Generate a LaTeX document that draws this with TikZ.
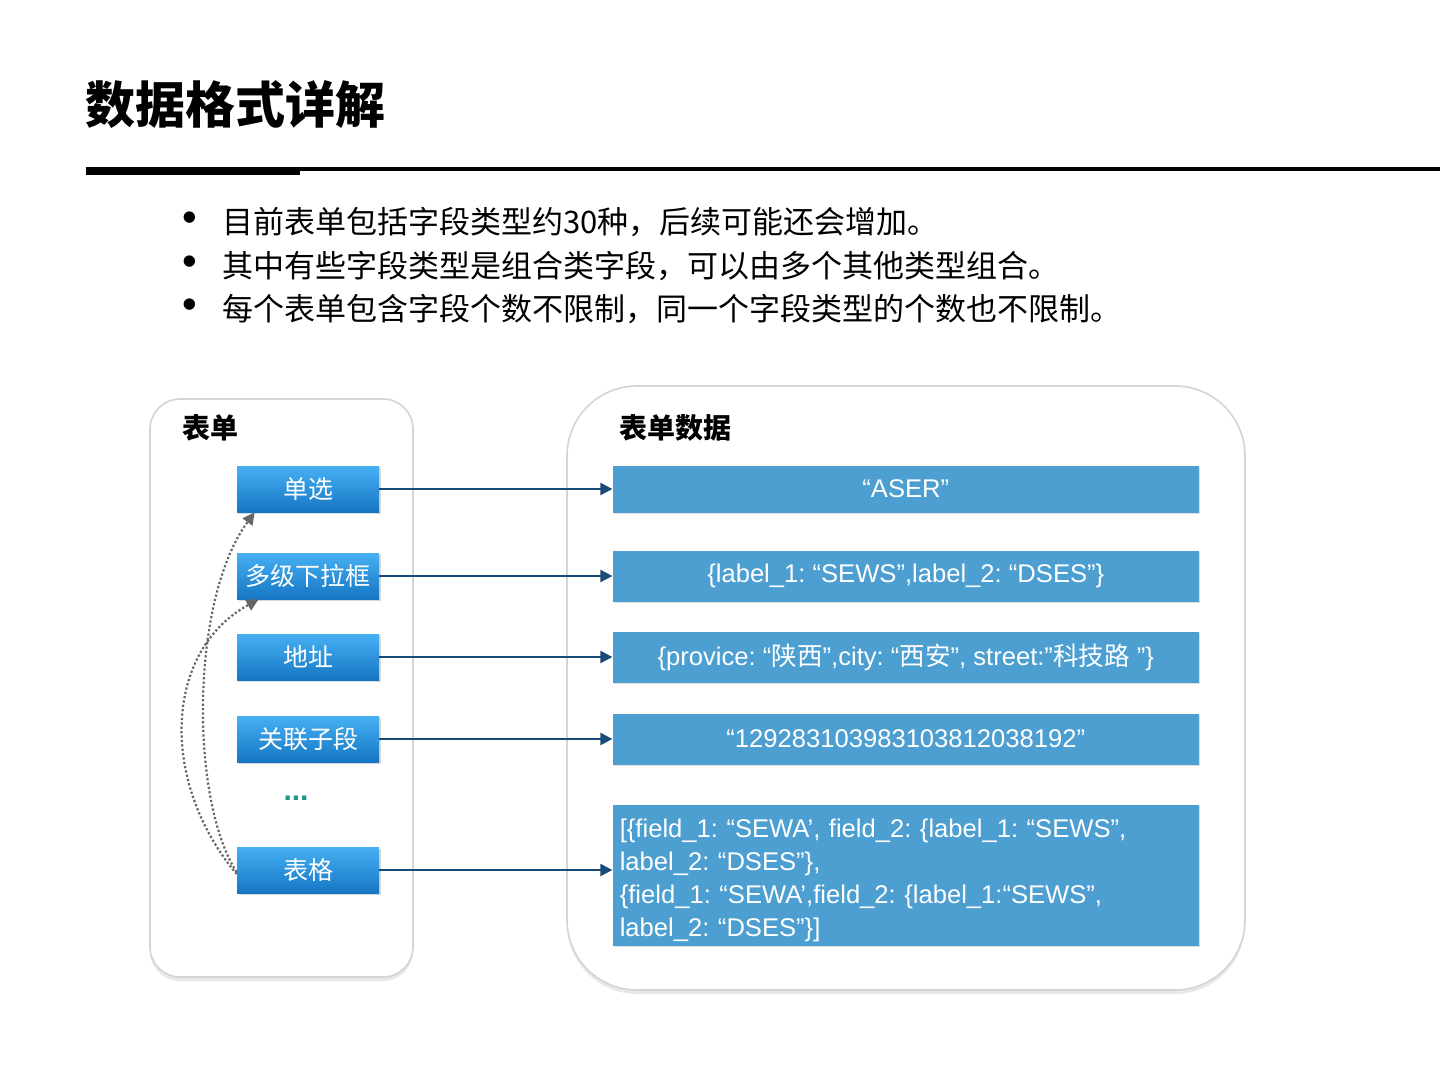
\documentclass[tikz,border=0pt]{standalone}
\usepackage{fontspec}
\setmainfont{Liberation Sans}
\newfontfamily\cjk{Noto Sans CJK SC}
\usetikzlibrary{arrows.meta, positioning, shadows}
\frenchspacing

\definecolor{fieldtop}{RGB}{70,176,243}
\definecolor{fieldbot}{RGB}{22,118,196}
\definecolor{valueblue}{RGB}{77,159,209}
\definecolor{linkblue}{RGB}{25,75,120}
\definecolor{dotteal}{RGB}{26,150,140}
\definecolor{panelgray}{RGB}{212,212,212}

\begin{document}
\begin{tikzpicture}[
    x=0.5pt, y=-0.5pt,
    panel/.style={rectangle, draw=panelgray, line width=0.8pt, fill=white, drop shadow={shadow xshift=0pt, shadow yshift=-2pt, opacity=0.18}},
    fieldbox/.style={rectangle, minimum width=71pt, minimum height=23pt, top color=fieldtop, bottom color=fieldbot, text=white, font=\cjk\fontsize{12.5}{15}\selectfont, drop shadow={shadow xshift=0.8pt, shadow yshift=-0.8pt, opacity=0.3}},
    valuebox/.style={rectangle, fill=valueblue, minimum width=293pt, minimum height=25.5pt, text=white, font=\fontsize{12.8}{16.5}\selectfont, drop shadow={shadow xshift=0.6pt, shadow yshift=-0.8pt, opacity=0.25}},
    arrow/.style={-{Triangle[length=6pt, width=6pt]}, linkblue, line width=1pt},
    reuse/.style={-{Triangle[length=6pt, width=6pt]}, black!60, line width=1.1pt, dash pattern=on 1.1pt off 1.1pt},
    heading/.style={anchor=west, inner sep=0pt, font=\cjk\bfseries\fontsize{14}{17}\selectfont},
    bulletline/.style={anchor=west, inner sep=0pt, font=\cjk\fontsize{15.5}{19}\selectfont}
]
\useasboundingbox (0,0) rectangle (1440,1080);

\node[anchor=west, inner sep=0pt, font=\cjk\bfseries\fontsize{25}{30}\selectfont] (title) at (85,105) {数据格式详解};
\fill (86,167) rectangle (300,175);
\fill (300,167) rectangle (1440,171);

\foreach \y/\txt [count=\i] in {222/{目前表单包括字段类型约30种，后续可能还会增加。},
                                266/{其中有些字段类型是组合类字段，可以由多个其他类型组合。},
                                309/{每个表单包含字段个数不限制，同一个字段类型的个数也不限制。}} {
    \node[inner sep=0pt, font=\fontsize{21}{21}\selectfont] (dot\i) at (190,\y) {•};
    \node[bulletline] (point\i) at (222,\y) {\txt};
}

\node[panel, rounded corners=15pt, minimum width=131.5pt, minimum height=289pt] (formpanel) at (281.5,688) {};
\node[panel, rounded corners=35pt, minimum width=339pt, minimum height=302pt] (datapanel) at (906,688) {};

\node[heading] (formlabel) at (182,428) {表单};
\node[heading] (datalabel) at (619,428) {表单数据};

\node[fieldbox] (single) at (308,489) {单选};
\node[fieldbox] (cascade) at (308,576) {多级下拉框};
\node[fieldbox] (address) at (308,657) {地址};
\node[fieldbox] (relation) at (308,739) {关联子段};
\node[text=dotteal, font=\bfseries\fontsize{15}{18}\selectfont] (more) at (296,798) {...};
\node[fieldbox] (table) at (308,870) {表格};

\node[valuebox, minimum height=23.5pt, right=116.5pt of single] (singleval) {“ASER”};
\node[valuebox, right=116.5pt of cascade] (cascadeval) {\{label\_1: “SEWS”,label\_2: “DSES”\}};
\node[valuebox, right=116.5pt of address] (addressval) {\{provice: “{\cjk 陕西}”,city: “{\cjk 西安}”, street:”{\cjk 科技路} ”\}};
\node[valuebox, right=116.5pt of relation] (relationval) {“129283103983103812038192”};
\node[valuebox, minimum height=70.5pt, text width=286pt, align=left, inner xsep=3.5pt, inner ysep=1.8pt, right=116.5pt of table, yshift=-2.5pt] (tableval)
    {\rule{0pt}{14.3pt}[\{field\_1: “SEWA’, field\_2: \{label\_1: “SEWS”,\\
     label\_2: “DSES”\},\\
     \{field\_1: “SEWA’,field\_2: \{label\_1:“SEWS”,\\
     label\_2: “DSES”\}]};

\draw[arrow] (single) -- (singleval);
\draw[arrow] (cascade) -- (cascadeval);
\draw[arrow] (address) -- (addressval);
\draw[arrow] (relation) -- (relationval);
\draw[arrow] (table.east) -- (table.east -| tableval.west);

\draw[reuse] ([yshift=-1pt]table.west) .. controls (190,800) and (190,600) .. ([xshift=9pt]single.south west);
\draw[reuse] ([yshift=-2pt]table.west) .. controls (158,780) and (165,650) .. ([xshift=11pt]cascade.south west);

\end{tikzpicture}
\end{document}
